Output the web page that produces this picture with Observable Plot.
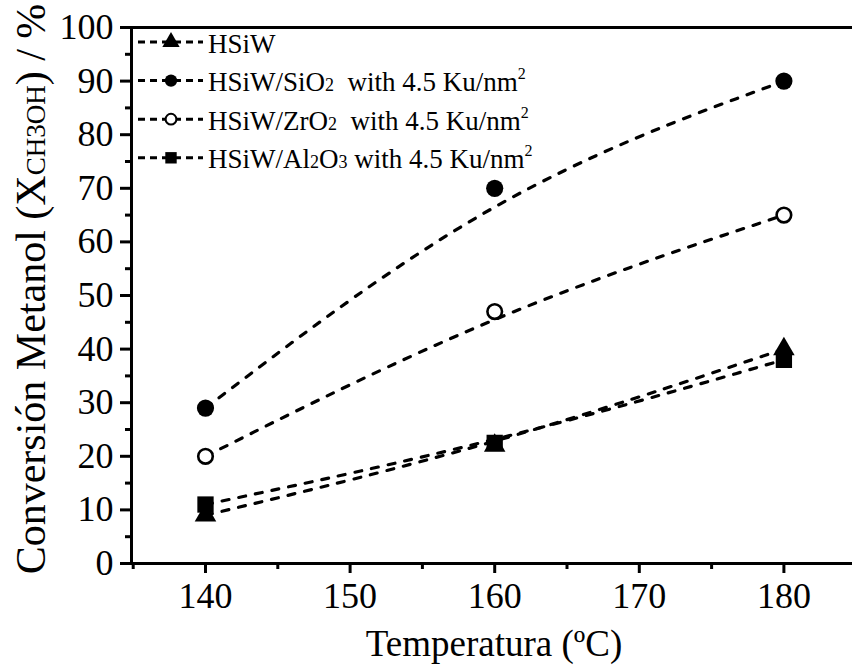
<!DOCTYPE html>
<html>
<head>
<meta charset="utf-8">
<script src="https://cdn.jsdelivr.net/npm/d3@7"></script>
<script src="https://cdn.jsdelivr.net/npm/@observablehq/plot@0.6"></script>
<style>
  html, body { margin: 0; padding: 0; background: #fff; }
  svg { display: block; }
</style>
</head>
<body>
<div id="chart"></div>
<script>
// ---- data ----
const temps = [140, 160, 180];
const seriesNames = ["HSiW", "HSiW/SiO2", "HSiW/ZrO2", "HSiW/Al2O3"];
const hsiw  = [9, 22, 40];
const sio2  = [29, 70, 90];
const zro2  = [20, 47, 65];
const al2o3 = [11, 22.5, 38];
const xTicks = [140, 150, 160, 170, 180];
const xMinor = [135, 145, 155, 165, 175, 185];
const yTicks = [0, 10, 20, 30, 40, 50, 60, 70, 80, 90, 100];
const yMinor = [5, 15, 25, 35, 45, 55, 65, 75, 85, 95];
const xTitle = "Temperatura (ºC)";

const mk = (vals) => temps.map((t, i) => ({t, v: vals[i]}));
const dHSiW = mk(hsiw), dSiO2 = mk(sio2), dZrO2 = mk(zro2), dAl = mk(al2o3);

const FONT = "'Times New Roman', serif";
const dash = {curve: "basis", stroke: "black", strokeWidth: 3.2, strokeDasharray: "7,10", strokeLinecap: "round"};

const svg = Plot.plot({
  width: 852,
  height: 669,
  marginLeft: 131,
  marginTop: 27,
  marginBottom: 106,
  marginRight: -3,
  style: {background: "white", color: "black"},
  x: {domain: [135, 185], range: [132.7, 855.7]},
  y: {domain: [0, 100]},
  marks: [
    Plot.axisX({ticks: xMinor, tickSize: 6, strokeWidth: 3, tickFormat: () => "", label: null}),
    Plot.axisX({ticks: xTicks, tickSize: 10, tickPadding: 9, strokeWidth: 3, fontSize: 36, fontFamily: FONT, fontVariant: "normal", label: null}),
    Plot.axisY({ticks: yMinor, tickSize: 6, strokeWidth: 3, tickFormat: () => "", label: null}),
    Plot.axisY({ticks: yTicks, tickSize: 11, tickPadding: 7, strokeWidth: 3, fontSize: 36, fontFamily: FONT, fontVariant: "normal", label: null}),
    Plot.line(dHSiW, {x: "t", y: "v", ...dash}),
    Plot.line(dSiO2, {x: "t", y: "v", ...dash}),
    Plot.line(dZrO2, {x: "t", y: "v", ...dash}),
    Plot.line(dAl, {x: "t", y: "v", ...dash}),
    Plot.dot(dHSiW, {x: "t", y: "v", symbol: "triangle", r: 8, fill: "black"}),
    Plot.dot(dAl, {x: "t", y: "v", symbol: "square", r: 9.2, fill: "black"}),
    Plot.dot(dSiO2, {x: "t", y: "v", symbol: "circle", r: 8.6, fill: "black"}),
    Plot.dot(dZrO2, {x: "t", y: "v", symbol: "circle", r: 7.3, fill: "white", stroke: "black", strokeWidth: 2.6}),
    Plot.frame({stroke: "black", strokeWidth: 3})
  ]
});

const s = d3.select(svg);
s.attr("font-family", FONT);

// x title
s.append("text")
  .attr("x", 494).attr("y", 656)
  .attr("text-anchor", "middle")
  .attr("font-family", FONT).attr("font-size", 37)
  .attr("fill", "black")
  .text(xTitle);

// y title with subscript
const yt = s.append("text")
  .attr("transform", "translate(45,289) rotate(-90)")
  .attr("text-anchor", "middle")
  .attr("font-family", FONT).attr("font-size", 42)
  .attr("fill", "black");
yt.append("tspan").text("Conversión Metanol (X");
yt.append("tspan").attr("font-size", 27).text("CH3OH");
yt.append("tspan").text(") / %");

// legend
const legendSyms = [
  {type: d3.symbolTriangle, size: 130, fill: "black", stroke: "none"},
  {type: d3.symbolCircle, size: 120, fill: "black", stroke: "none"},
  {type: d3.symbolCircle, size: 90, fill: "white", stroke: "black"},
  {type: d3.symbolSquare, size: 130, fill: "black", stroke: "none"}
];
const legendParts = [
  [["HSiW", null]],
  [["HSiW/SiO", null], ["2", "sub"], ["  with 4.5 Ku/nm", null], ["2", "sup"]],
  [["HSiW/ZrO", null], ["2", "sub"], ["  with 4.5 Ku/nm", null], ["2", "sup"]],
  [["HSiW/Al", null], ["2", "sub"], ["O", null], ["3", "sub"], [" with 4.5 Ku/nm", null], ["2", "sup"]]
];
const lg = s.append("g").attr("aria-label", "legend").attr("text-anchor", "start");
seriesNames.forEach((name, i) => {
  const cy = 42 + i * 38.6;
  lg.append("line")
    .attr("x1", 138).attr("x2", 203).attr("y1", cy).attr("y2", cy)
    .attr("stroke", "black").attr("stroke-width", 3).attr("stroke-dasharray", "7,5");
  const sym = legendSyms[i];
  lg.append("path")
    .attr("d", d3.symbol(sym.type, sym.size)())
    .attr("transform", `translate(171,${cy})`)
    .attr("fill", sym.fill).attr("stroke", sym.stroke).attr("stroke-width", 2);
  const t = lg.append("text")
    .attr("x", 208).attr("y", cy + 10.5)
    .attr("text-anchor", "start")
    .attr("font-family", FONT).attr("font-size", 27)
    .attr("fill", "black")
    .style("white-space", "pre");
  legendParts[i].forEach(([str, kind]) => {
    const sp = t.append("tspan").text(str);
    if (kind === "sub") sp.attr("font-size", 18);
    if (kind === "sup") sp.attr("font-size", 16).attr("dy", -12);
  });
});

document.getElementById("chart").appendChild(svg);
</script>
</body>
</html>
